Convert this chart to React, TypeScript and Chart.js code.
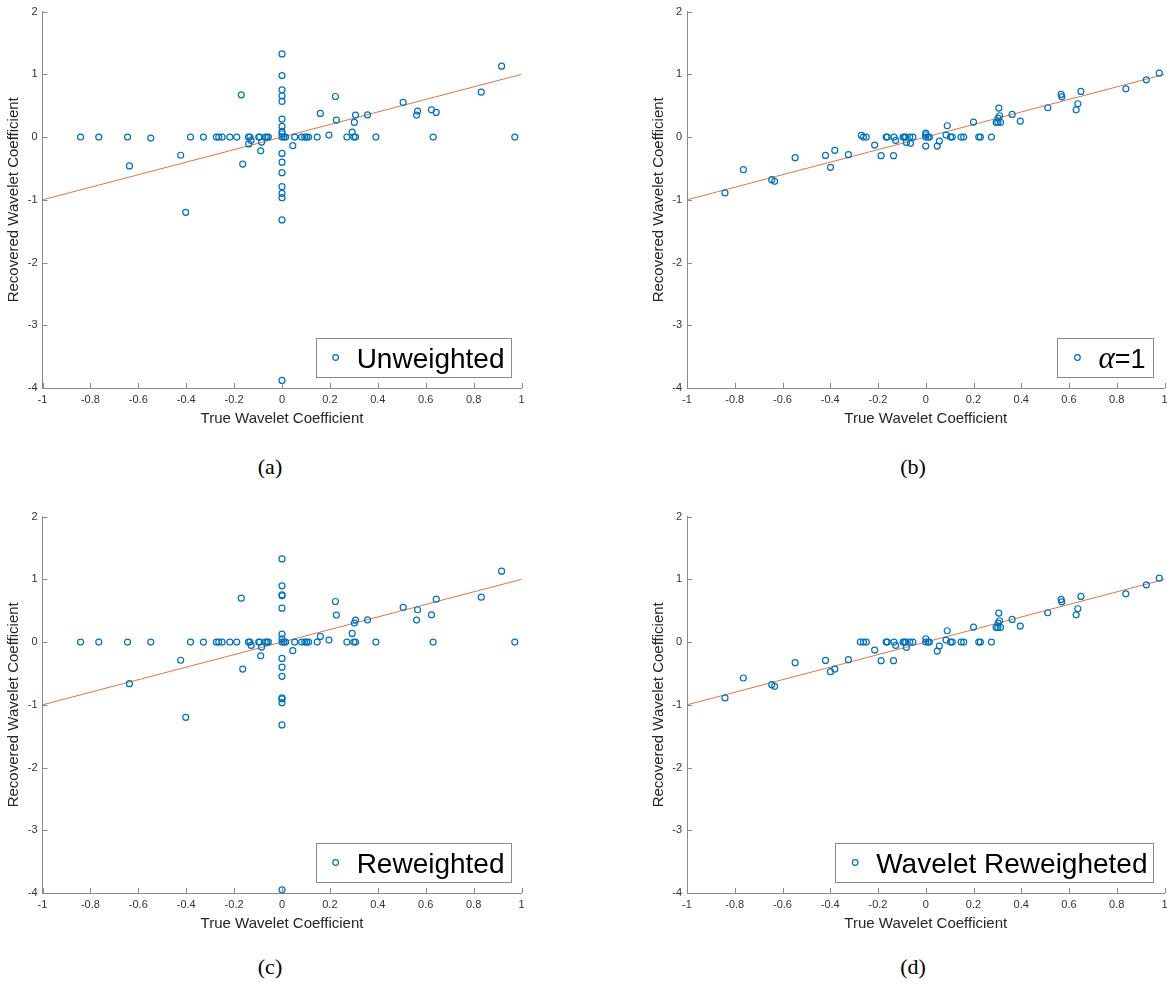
import React, { useEffect, useRef } from 'react';
import { Chart, registerables } from 'chart.js';

Chart.register(...registerables);

// ---------- axes ----------
const xTickValues = [-1, -0.8, -0.6, -0.4, -0.2, 0, 0.2, 0.4, 0.6, 0.8, 1];
const xTickLabels = ['-1', '-0.8', '-0.6', '-0.4', '-0.2', '0', '0.2', '0.4', '0.6', '0.8', '1'];
const yTickValues = [-4, -3, -2, -1, 0, 1, 2];
const yTickLabels = ['-4', '-3', '-2', '-1', '0', '1', '2'];
const xAxisTitle = 'True Wavelet Coefficient';
const yAxisTitle = 'Recovered Wavelet Coefficient';

// reference line y = x
const refLineX = [-1, 1];
const refLineY = [-1, 1];

// ---------- (a) Unweighted ----------
const unweightedX = [
  -0.841, -0.765, -0.645, -0.548, -0.637, -0.423, -0.402, -0.382, -0.328, -0.274,
  -0.264, -0.25, -0.218, -0.189, -0.17, -0.164, -0.14, -0.134, -0.139, -0.129,
  -0.097, -0.093, -0.089, -0.085, -0.07, -0.063, -0.057,
  0, 0, 0, 0, 0, 0, 0, 0, 0, 0, 0, 0, 0, 0, 0, 0, 0, 0,
  0.008, 0.015,
  0.045, 0.053, 0.082, 0.095, 0.103, 0.111, 0.147, 0.16, 0.196, 0.223,
  0.227, 0.271, 0.293, 0.302, 0.3, 0.307, 0.307, 0.357, 0.392, 0.506,
  0.562, 0.566, 0.624, 0.631, 0.644, 0.832, 0.917, 0.972,
];
const unweightedY = [
  0, 0, 0, -0.016, -0.46, -0.29, -1.2, 0, 0, 0,
  0, 0, 0, 0, 0.674, -0.43, 0, 0, -0.11, -0.053,
  0, 0, -0.22, -0.08, 0, 0, 0,
  1.326, 0.981, 0.753, 0.658, 0.568, 0.286, 0.17, 0.09, 0.053, 0, -0.26, -0.4, -0.568, -0.79, -0.897, -0.966, -1.321, -3.88,
  0, 0,
  -0.138, 0, 0, 0, 0, 0, 0, 0.377, 0.032, 0.647,
  0.271, 0, 0.08, 0.233, 0, 0, 0.35, 0.355, 0, 0.552,
  0.35, 0.414, 0.435, 0, 0.393, 0.716, 1.13, 0,
];

// ---------- (b) alpha = 1 ----------
const alphaOneX = [
  -0.841, -0.764, -0.645, -0.633, -0.547, -0.42, -0.399, -0.381, -0.324, -0.27,
  -0.261, -0.249, -0.214, -0.187, -0.166, -0.161, -0.135, -0.133, -0.126, -0.095,
  -0.089, -0.084, -0.081, -0.064, -0.067, -0.054,
  0, 0, 0, 0.01, 0.015, 0,
  0.048, 0.057, 0.085, 0.09, 0.104, 0.111, 0.148, 0.159, 0.2, 0.222,
  0.229, 0.275, 0.295, 0.302, 0.313, 0.303, 0.309, 0.306, 0.362, 0.396,
  0.511, 0.567, 0.57, 0.63, 0.637, 0.65, 0.838, 0.924, 0.978,
];
const alphaOneY = [
  -0.891, -0.52, -0.679, -0.706, -0.329, -0.292, -0.483, -0.212, -0.281, 0.027,
  0, 0, -0.127, -0.297, 0, 0, -0.297, 0, -0.053, 0,
  0, 0, -0.085, -0.1, 0, 0,
  0.064, 0.037, 0, 0, 0, -0.143,
  -0.143, -0.064, 0.032, 0.18, 0, 0, 0, 0, 0.239, 0,
  0, 0, 0.233, 0.233, 0.233, 0.302, 0.34, 0.462, 0.361, 0.255,
  0.467, 0.679, 0.642, 0.435, 0.531, 0.727, 0.769, 0.912, 1.019,
];

// ---------- (c) Reweighted ----------
const reweightedX = [
  -0.841, -0.765, -0.645, -0.548, -0.637, -0.423, -0.402, -0.382, -0.328, -0.274,
  -0.264, -0.25, -0.218, -0.189, -0.17, -0.164, -0.14, -0.134, -0.129, -0.097,
  -0.093, -0.089, -0.085, -0.07, -0.063, -0.057,
  0, 0, 0, 0, 0, 0, 0, 0, 0, 0, 0, 0, 0, 0, 0, 0,
  0.008, 0.015,
  0.045, 0.053, 0.082, 0.095, 0.103, 0.111, 0.147, 0.16, 0.196, 0.223,
  0.227, 0.271, 0.293, 0.302, 0.307, 0.3, 0.307, 0.357, 0.392, 0.506,
  0.562, 0.566, 0.624, 0.631, 0.644, 0.832, 0.917, 0.972,
];
const reweightedY = [
  0, 0, 0, 0, -0.663, -0.29, -1.2, 0, 0, 0,
  0, 0, 0, 0, 0.7, -0.43, 0, 0, -0.053, 0,
  0, -0.22, -0.08, 0, 0, 0,
  1.326, 0.897, 0.753, 0.737, 0.541, 0.127, 0.053, 0, -0.26, -0.4, -0.546, -0.891, -0.907, -0.966, -1.321, -3.95,
  0, 0,
  -0.138, 0, 0, 0, 0, 0, 0, 0.09, 0.032, 0.647,
  0.43, 0, 0.138, 0.302, 0.35, 0, 0, 0.355, 0, 0.552,
  0.35, 0.515, 0.435, 0, 0.684, 0.716, 1.13, 0,
];

// ---------- (d) Wavelet Reweighted ----------
const waveletRwX = [
  -0.841, -0.764, -0.645, -0.633, -0.547, -0.42, -0.399, -0.381, -0.324, -0.274,
  -0.261, -0.249, -0.214, -0.187, -0.166, -0.161, -0.135, -0.133, -0.126, -0.095,
  -0.089, -0.084, -0.081, -0.067, -0.054,
  0, 0, 0.01, 0.015,
  0.048, 0.057, 0.085, 0.09, 0.104, 0.111, 0.148, 0.159, 0.2, 0.222,
  0.229, 0.275, 0.295, 0.302, 0.313, 0.303, 0.309, 0.306, 0.362, 0.396,
  0.511, 0.567, 0.57, 0.63, 0.637, 0.65, 0.838, 0.924, 0.978,
];
const waveletRwY = [
  -0.891, -0.573, -0.679, -0.706, -0.329, -0.292, -0.472, -0.43, -0.281, 0,
  0, 0, -0.127, -0.297, 0, 0, -0.297, 0, -0.053, 0,
  0, 0, -0.085, 0, 0,
  0.053, 0, 0, 0,
  -0.143, -0.064, 0.032, 0.18, 0, 0, 0, 0, 0.239, 0,
  0, 0, 0.233, 0.233, 0.233, 0.302, 0.34, 0.462, 0.361, 0.255,
  0.467, 0.679, 0.642, 0.435, 0.531, 0.727, 0.769, 0.912, 1.019,
];

// ---------- styling ----------
const SANS = '"Liberation Sans", Arial, Helvetica, sans-serif';
const SERIF = '"Liberation Serif", "Times New Roman", serif';
const POINT_COLOR = '#0072BD';
const LINE_COLOR = 'rgba(217,83,25,0.8)';
const AXIS_COLOR = '#8a8a8a';
const LABEL_COLOR = '#333333';
const TITLE_COLOR = '#262626';

type LegendPart = { text: string; font: string };
type PanelSpec = {
  caption: string;
  xs: number[];
  ys: number[];
  legend: LegendPart[];
  legendPadRight: number;
  L: number; R: number; T: number; B: number;
  capX: number; capY: number;
};

const panels: PanelSpec[] = [
  {
    caption: '(a)', xs: unweightedX, ys: unweightedY,
    legend: [{ text: 'Unweighted', font: `28px ${SANS}` }], legendPadRight: 6,
    L: 42.5, R: 521.5, T: 10, B: 388, capX: 270, capY: 467,
  },
  {
    caption: '(b)', xs: alphaOneX, ys: alphaOneY,
    legend: [
      { text: 'α', font: `italic 31px ${SERIF}` },
      { text: '=1', font: `27px ${SANS}` },
    ], legendPadRight: 8,
    L: 687, R: 1164.5, T: 10, B: 388, capX: 913, capY: 467,
  },
  {
    caption: '(c)', xs: reweightedX, ys: reweightedY,
    legend: [{ text: 'Reweighted', font: `28px ${SANS}` }], legendPadRight: 6,
    L: 42.5, R: 521.5, T: 515, B: 893, capX: 270, capY: 967,
  },
  {
    caption: '(d)', xs: waveletRwX, ys: waveletRwY,
    legend: [{ text: 'Wavelet Reweigheted', font: `28px ${SANS}` }], legendPadRight: 6,
    L: 687, R: 1164.5, T: 515, B: 893, capX: 913, capY: 967,
  },
];

function Panel({ spec }: { spec: PanelSpec }) {
  const ref = useRef<HTMLCanvasElement>(null);
  const canvasLeft = Math.floor(spec.L) - 44;
  const canvasTop = spec.T - 10;
  const width = Math.ceil(spec.R) + 12 - canvasLeft;
  const height = spec.B + 50 - canvasTop;

  useEffect(() => {
    if (!ref.current) return;
    const yAxisW = spec.L - canvasLeft;
    const xAxisH = canvasTop + height - spec.B;
    const padRight = canvasLeft + width - spec.R;

    const overlay = {
      id: 'matlabOverlay',
      afterDatasetsDraw(chart: any) {
        const { ctx, chartArea } = chart;
        const xs = chart.scales.x;
        const ys = chart.scales.y;
        ctx.save();
        // inward tick marks
        ctx.strokeStyle = AXIS_COLOR;
        ctx.lineWidth = 1;
        ctx.beginPath();
        xTickValues.forEach((v) => {
          const px = Math.round(xs.getPixelForValue(v)) + 0.5;
          ctx.moveTo(px, chartArea.bottom);
          ctx.lineTo(px, chartArea.bottom - 5);
        });
        yTickValues.forEach((v) => {
          const py = Math.round(ys.getPixelForValue(v)) + 0.5;
          ctx.moveTo(chartArea.left, py);
          ctx.lineTo(chartArea.left + 5, py);
        });
        ctx.stroke();

        // legend box
        let textW = 0;
        const widths: number[] = [];
        spec.legend.forEach((p) => {
          ctx.font = p.font;
          const w = ctx.measureText(p.text).width;
          widths.push(w);
          textW += w;
        });
        const boxH = 39;
        const boxW = 41 + textW + spec.legendPadRight;
        const boxR = chartArea.right - 11;
        const boxB = chartArea.bottom - 11;
        const boxL = boxR - boxW;
        const boxT = boxB - boxH;
        ctx.fillStyle = '#ffffff';
        ctx.fillRect(boxL, boxT, boxW, boxH);
        ctx.strokeStyle = AXIS_COLOR;
        ctx.lineWidth = 1;
        ctx.strokeRect(Math.round(boxL) + 0.5, Math.round(boxT) + 0.5, Math.round(boxW), boxH);
        ctx.beginPath();
        ctx.arc(boxL + 20, boxT + boxH / 2, 2.8, 0, Math.PI * 2);
        ctx.strokeStyle = POINT_COLOR;
        ctx.lineWidth = 1.2;
        ctx.stroke();
        let tx = boxL + 41;
        const baseline = boxT + boxH / 2 + 10;
        ctx.fillStyle = '#000000';
        ctx.textAlign = 'left';
        ctx.textBaseline = 'alphabetic';
        spec.legend.forEach((p, i) => {
          ctx.font = p.font;
          ctx.fillText(p.text, tx, baseline);
          tx += widths[i];
        });
        ctx.restore();
      },
    };

    const chart = new Chart(ref.current, {
      type: 'scatter',
      data: {
        datasets: [
          {
            data: spec.xs.map((x, i) => ({ x, y: spec.ys[i] })),
            pointStyle: 'circle',
            pointRadius: 3,
            borderColor: POINT_COLOR,
            backgroundColor: 'rgba(0,0,0,0)',
            borderWidth: 1.2,
            showLine: false,
            clip: false as any,
          },
          {
            data: refLineX.map((x, i) => ({ x, y: refLineY[i] })),
            showLine: true,
            borderColor: LINE_COLOR,
            borderWidth: 1,
            pointRadius: 0,
            fill: false,
          },
        ],
      },
      options: {
        responsive: false,
        animation: false,
        events: [],
        layout: { padding: { left: 0, top: 10, right: padRight, bottom: 0 } },
        plugins: { legend: { display: false }, tooltip: { enabled: false } },
        scales: {
          x: {
            type: 'linear',
            position: 'bottom',
            min: -1,
            max: 1,
            afterBuildTicks: (s: any) => { s.ticks = xTickValues.map((v) => ({ value: v })); },
            afterFit: (s: any) => { s.height = xAxisH; },
            grid: { display: false, drawTicks: false },
            border: { display: true, color: AXIS_COLOR, width: 1 },
            ticks: {
              padding: 5,
              color: LABEL_COLOR,
              font: { family: SANS, size: 11 },
              maxRotation: 0,
              autoSkip: false,
              callback: (v: any) => xTickLabels[xTickValues.indexOf(Number(v))] ?? String(v),
            },
            title: {
              display: true,
              text: xAxisTitle,
              color: TITLE_COLOR,
              font: { family: SANS, size: 15 },
              padding: { top: 0, bottom: 10 },
            },
          },
          y: {
            type: 'linear',
            position: 'left',
            min: -4,
            max: 2,
            afterBuildTicks: (s: any) => { s.ticks = yTickValues.map((v) => ({ value: v })); },
            afterFit: (s: any) => { s.width = yAxisW; },
            grid: { display: false, drawTicks: false },
            border: { display: true, color: AXIS_COLOR, width: 1 },
            ticks: {
              padding: 5,
              color: LABEL_COLOR,
              font: { family: SANS, size: 11 },
              autoSkip: false,
              callback: (v: any) => yTickLabels[yTickValues.indexOf(Number(v))] ?? String(v),
            },
            title: {
              display: true,
              text: yAxisTitle,
              color: TITLE_COLOR,
              font: { family: SANS, size: 15 },
              padding: { top: 7, bottom: 0 },
            },
          },
        },
      } as any,
      plugins: [overlay],
    });
    return () => chart.destroy();
  }, []);

  return (
    <>
      <canvas
        ref={ref}
        width={width}
        height={height}
        style={{ position: 'absolute', left: canvasLeft, top: canvasTop, width, height }}
      />
      <div
        style={{
          position: 'absolute',
          left: spec.capX,
          top: spec.capY,
          transform: 'translate(-50%, -50%)',
          fontFamily: SERIF,
          fontSize: 22,
          color: '#000',
          whiteSpace: 'nowrap',
        }}
      >
        {spec.caption}
      </div>
    </>
  );
}

export default function App() {
  return (
    <div
      style={{
        position: 'absolute',
        left: 0,
        top: 0,
        width: 1167,
        height: 986,
        overflow: 'hidden',
        background: '#ffffff',
      }}
    >
      {panels.map((p) => (
        <Panel key={p.caption} spec={p} />
      ))}
    </div>
  );
}
